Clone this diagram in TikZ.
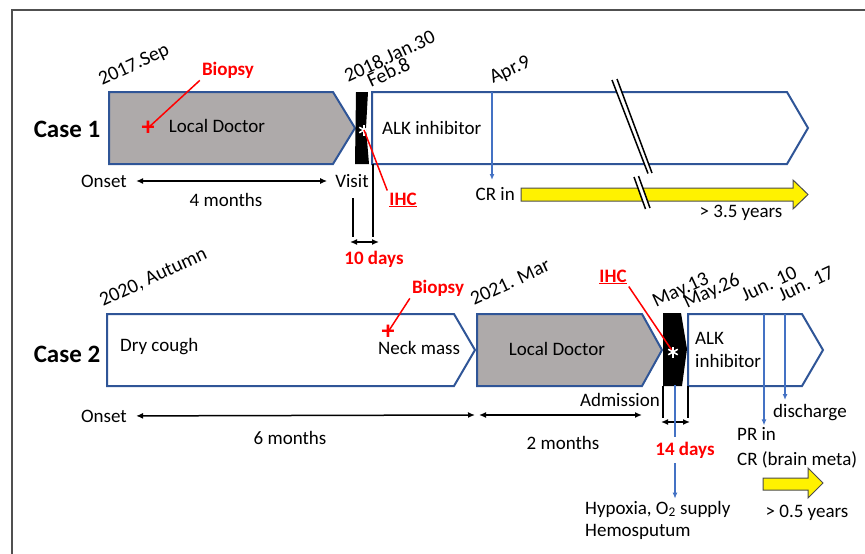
\documentclass[tikz,border=0pt]{standalone}
\usepackage{fontspec}
\setmainfont{Carlito}
\usetikzlibrary{arrows.meta}
\definecolor{boxblue}{HTML}{2F5597}
\definecolor{eventblue}{HTML}{4472C4}
\definecolor{docgray}{HTML}{AEAAAA}
\definecolor{framegray}{HTML}{505050}

\begin{document}
\begin{tikzpicture}[x=1pt,y=-1pt,
    font=\fontsize{19}{22}\selectfont,
    every node/.style={inner sep=2pt},
    phasebox/.style={draw=boxblue,line width=2pt,line join=miter},
    casename/.style={font=\fontsize{25}{28}\selectfont\bfseries},
    datelbl/.style={rotate=25,anchor=base west,inner sep=0pt,font=\fontsize{20}{22}\selectfont},
    redlbl/.style={text=red,font=\fontsize{19}{22}\selectfont\bfseries},
    plusmark/.style={text=red,inner sep=0pt,font=\fontsize{26}{26}\selectfont\bfseries},
    pointer/.style={red,line width=1.5pt},
    spanarrow/.style={{Latex[length=7pt,width=6pt]}-{Latex[length=7pt,width=6pt]},line width=1.5pt},
    tickline/.style={line width=2pt},
    eventarrow/.style={eventblue,line width=2pt,-{Latex[length=6pt,width=5pt]}},
    yellowarrow/.style={fill=yellow,draw=black!70,line width=1pt},
    starline/.style={white,line width=1.6pt}]
  \useasboundingbox (0,0) rectangle (865,554);
  \draw[framegray,line width=1.5pt] (12,560) -- (12,10) -- (870,10);

  % ---------- case 1
  \node[casename] (case1) at (67,129) {Case 1};

  \filldraw[phasebox,fill=docgray] (109,92) -- (333,92) -- (355,128) -- (333,164) -- (109,164) -- cycle;
  \filldraw[phasebox,fill=white] (372,92) -- (787,92) -- (808,128) -- (787,164) -- (372,164) -- cycle;
  \fill (356,92) -- (368,92) -- (366,128) -- (369,164) -- (355,164) -- cycle;

  % break mark
  \fill[white] (612,80) -- (617,79) -- (652,173) -- (648,173.5) -- cycle;
  \draw[line width=1.5pt] (612,80) -- (648,173.5) (617,79) -- (652,173);

  \node (doc1) at (217,126) {Local Doctor};
  \node[anchor=west] (alk1) at (380,128) {ALK inhibitor};

  \node[datelbl] (sep17) at (102,86) {2017.Sep};
  \node[datelbl] (jan30) at (348,83) {2018.Jan.30};
  \node[datelbl] (feb8) at (371,88) {Feb.8};
  \node[datelbl] (apr9) at (493,84) {Apr.9};

  \node[redlbl] (biopsy1) at (228,70) {Biopsy};
  \node[plusmark] (plus1) at (148,128) {+};
  \draw[pointer] (biopsy1.south west) -- (plus1.center);

  \coordinate (star1) at (364,130);
  \foreach \a in {90,30,-30}
    \draw[starline] ([shift={(\a:5.5)}]star1) -- ([shift={(\a+180:5.5)}]star1);
  \node[redlbl] (ihc1) at (403,200) {\underline{IHC}};
  \draw[pointer] (star1) -- (ihc1.north west);

  \node (onset1) at (104,181) {Onset};
  \node (visit) at (352,181) {Visit};
  \draw[spanarrow,shorten <=7pt,shorten >=6pt] (onset1) -- (visit);
  \node (m4) at (226,200) {4 months};

  % 10 days
  \coordinate (vis1) at (353,198);
  \coordinate (feb1) at (373,164);
  \draw[tickline] (vis1) -- ++(0,39);
  \draw[tickline] (feb1) -- ++(0,73);
  \draw[spanarrow] (350,242) -- (379,242);
  \node[redlbl] (days10) at (374,259) {10 days};

  % response
  \coordinate (apr9top) at (492,92);
  \coordinate (cr1top) at (492,180);
  \draw[eventarrow] (apr9top) -- (cr1top);
  \node[anchor=east] (crin) at (517,194) {CR in};
  \filldraw[yellowarrow] (521,188) -- (793,188) -- (793,180) -- (808,194.5) -- (793,209) -- (793,201) -- (521,201) -- cycle;
  \fill[white] (634,177) -- (638.5,176) -- (650,208) -- (645.5,209) -- cycle;
  \draw[line width=1.5pt] (634,177) -- (645.5,209) (638.5,176) -- (650,208);
  \node (yrs35) at (741,213) {> 3.5 years};

  % ---------- case 2
  \node[casename] (case2) at (67,354) {Case 2};

  \filldraw[phasebox,fill=white] (107,314) -- (454,314) -- (475,350) -- (454,386) -- (107,386) -- cycle;
  \filldraw[phasebox,fill=docgray] (477,314) -- (642,314) -- (662,350) -- (642,386) -- (477,386) -- cycle;
  \fill (663,313) -- (681,313) -- (687,349) -- (682,386) -- (663,386) -- cycle;
  \filldraw[phasebox,fill=white] (688,314) -- (802,314) -- (823,350) -- (802,386) -- (688,386) -- cycle;

  \node[anchor=west] (cough) at (118,347) {Dry cough};
  \node[anchor=west] (neck) at (376,348) {Neck mass};
  \node (doc2) at (557,349) {Local Doctor};
  \node[anchor=west,align=left,font=\fontsize{19}{23}\selectfont] (alk2) at (693,350) {ALK\\inhibitor};

  \node[datelbl] (autumn) at (103,307) {2020, Autumn};
  \node[datelbl] (mar21) at (474,306) {2021. Mar};
  \node[datelbl] (may13) at (656,308) {May.13};
  \node[datelbl] (may26) at (687,309) {May.26};
  \node[datelbl] (jun10) at (745,302) {Jun. 10};
  \node[datelbl] (jun17) at (782,302) {Jun. 17};

  \node[redlbl] (biopsy2) at (438,288) {Biopsy};
  \node[plusmark] (plus2) at (388,332) {+};
  \draw[pointer] (biopsy2.south west) -- (plus2.center);

  \coordinate (star2) at (673,352);
  \node[redlbl] (ihc2) at (613,277) {\underline{IHC}};
  \draw[pointer] (ihc2.south east) -- (star2);
  \foreach \a in {90,30,-30}
    \draw[starline] ([shift={(\a:5.5)}]star2) -- ([shift={(\a+180:5.5)}]star2);

  \node (onset2) at (104,416) {Onset};
  \coordinate (nb2) at (475,415);
  \coordinate (ld2) at (479,415);
  \coordinate (adm2) at (642,415);
  \draw[spanarrow,shorten <=7pt] (onset2) -- (nb2);
  \draw[spanarrow] (ld2) -- (adm2);
  \node (m6) at (290,438) {6 months};
  \node (m2) at (563,443) {2 months};
  \node[anchor=east] (adm) at (662,400) {Admission};

  % 14 days
  \coordinate (may13b) at (663,386);
  \coordinate (may26b) at (688,386);
  \draw[tickline] (may13b) -- ++(0,32);
  \draw[tickline] (may26b) -- ++(0,32);
  \draw[spanarrow] (661,422) -- (690,422);

  \node[anchor=west,align=left] (hypox) at (583,520) {Hypoxia, O\textsubscript{2} supply\\Hemosputum};
  \coordinate (bar2) at (675,385);
  \draw[eventarrow] (bar2) -- (bar2 |- hypox.north);
  \node[redlbl,fill=white,inner sep=5pt] (days14) at (685,450) {14 days};

  % response
  \node[anchor=west] (disch) at (771,413) {discharge};
  \node[anchor=west,align=left,font=\fontsize{19}{25}\selectfont] (prcr) at (735,448) {PR in\\CR (brain meta)};
  \coordinate (jun10top) at (764,314);
  \coordinate (jun17top) at (785,314);
  \draw[eventarrow] (jun10top) -- (jun10top |- prcr.north);
  \draw[eventarrow] (jun17top) -- (785,400);
  \filldraw[yellowarrow] (763,478) -- (808,478) -- (808,468) -- (823,483) -- (808,498) -- (808,490) -- (763,490) -- cycle;
  \node (yrs05) at (807,513) {> 0.5 years};
\end{tikzpicture}
\end{document}
